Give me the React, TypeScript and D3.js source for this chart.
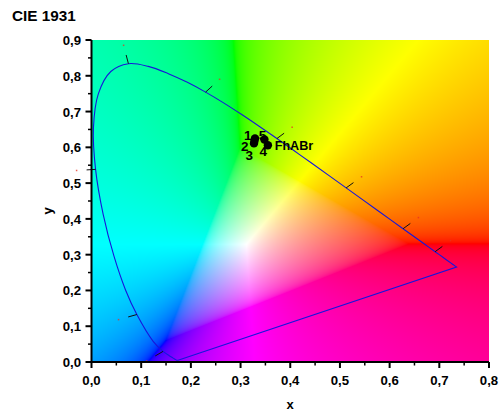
import React, { useEffect, useRef } from 'react';
import * as d3 from 'd3';

const locusX = [0.1741, 0.1738, 0.1733, 0.1726, 0.1714, 0.1689, 0.1644, 0.1566, 0.144, 0.1241, 0.0913, 0.0687, 0.0454, 0.0235, 0.0082, 0.0039, 0.0139, 0.0389, 0.0743, 0.1142, 0.1547, 0.1929, 0.2296, 0.2658, 0.3016, 0.3373, 0.3731, 0.4087, 0.4441, 0.4788, 0.5125, 0.5448, 0.5752, 0.6029, 0.627, 0.6482, 0.6658, 0.6801, 0.6915, 0.7006, 0.7079, 0.714, 0.719, 0.723, 0.726, 0.7283, 0.73, 0.7311, 0.732, 0.7334, 0.7347];
const locusY = [0.005, 0.0049, 0.0048, 0.0048, 0.0051, 0.0069, 0.0109, 0.0177, 0.0297, 0.0578, 0.1327, 0.2007, 0.295, 0.4127, 0.5384, 0.6548, 0.7502, 0.812, 0.8338, 0.8262, 0.8059, 0.7816, 0.7543, 0.7243, 0.6923, 0.6589, 0.6245, 0.5896, 0.5547, 0.5202, 0.4866, 0.4544, 0.4242, 0.3965, 0.3725, 0.3514, 0.334, 0.3197, 0.3083, 0.2993, 0.292, 0.2859, 0.2809, 0.277, 0.274, 0.2717, 0.27, 0.2689, 0.268, 0.2666, 0.2653];
// wavelength marks on the locus (460..620 nm), as indices into locusX/locusY
const markIndex = [8, 10, 14, 18, 22, 26, 30, 34, 38];
const sampleLabels = ['1', '2', '3', '4', '5'];
const sampleX = [0.329, 0.327, 0.328, 0.355, 0.348];
const sampleY = [0.625, 0.611, 0.618, 0.606, 0.622];
const xTicks = [0, 0.1, 0.2, 0.3, 0.4, 0.5, 0.6, 0.7, 0.8];
const yTicks = [0, 0.1, 0.2, 0.3, 0.4, 0.5, 0.6, 0.7, 0.8, 0.9];

const labelDx = [-7.3, -9.3, -5.2, -4.6, -2];
const labelDy = [1.3, 7.4, 19.1, 10.9, 1];

const fmt = (v: number) => v.toFixed(1).replace('.', ',');
const x = d3.scaleLinear().domain([0, 0.8]).range([91.5, 489]);
const y = d3.scaleLinear().domain([0, 0.9]).range([362, 40]);

function gamma(c: number) {
  return c <= 0.0031308 ? 12.92 * c : 1.055 * Math.pow(c, 1 / 2.4) - 0.055;
}

function xyToRgb(cx: number, cy: number) {
  const X = cx / Math.max(cy, 0.0001);
  const Z = (1 - cx - cy) / Math.max(cy, 0.0001);
  let r = 3.2406 * X - 1.5372 - 0.4986 * Z;
  let g = -0.9689 * X + 1.8758 + 0.0415 * Z;
  let b = 0.0557 * X - 0.204 + 1.057 * Z;
  // out of gamut: add white until nothing is negative, hue then radiates from the white point
  const low = Math.min(r, g, b);
  if (low < 0) {
    r -= low;
    g -= low;
    b -= low;
  }
  const m = Math.max(r, g, b);
  return [gamma(r / m), gamma(g / m), gamma(b / m)].map((c) => Math.round(c * 255));
}

// ticks are normal to the curve in data units, then mapped to pixels
function markNormal(i: number) {
  const tx = locusX[i + 1] - locusX[i - 1];
  const ty = locusY[i + 1] - locusY[i - 1];
  let nx = x(-ty) - x(0);
  let ny = y(tx) - y(0);
  const len = Math.hypot(nx, ny);
  nx /= len;
  ny /= len;
  if (nx * (x(locusX[i]) - x(0.3127)) + ny * (y(locusY[i]) - y(0.329)) < 0) {
    nx = -nx;
    ny = -ny;
  }
  return [nx, ny];
}

export default function App() {
  const bgRef = useRef<SVGImageElement>(null);

  useEffect(() => {
    const w = Math.round(x.range()[1] - x.range()[0]);
    const h = Math.round(y.range()[0] - y.range()[1]);
    const canvas = document.createElement('canvas');
    canvas.width = w;
    canvas.height = h;
    const ctx = canvas.getContext('2d')!;
    const img = ctx.createImageData(w, h);
    for (let j = 0; j < h; j++) {
      for (let i = 0; i < w; i++) {
        const [r, g, b] = xyToRgb(x.invert(x.range()[0] + i + 0.5), y.invert(y.range()[1] + j + 0.5));
        const k = (j * w + i) * 4;
        img.data[k] = r;
        img.data[k + 1] = g;
        img.data[k + 2] = b;
        img.data[k + 3] = 255;
      }
    }
    ctx.putImageData(img, 0, 0);
    bgRef.current?.setAttribute('href', canvas.toDataURL());
  }, []);

  const line = d3.line<number>().x((d) => x(d)).y((_, i) => y(locusY[i])).curve(d3.curveCatmullRom);
  const font = { fontFamily: 'Liberation Sans, Arial, sans-serif', fontWeight: 700 };

  return (
    <svg width={501} height={412} style={{ position: 'absolute', left: 0, top: 0, background: '#fff' }}>
      <image ref={bgRef} x={x(0)} y={y(0.9)} width={x(0.8) - x(0)} height={y(0) - y(0.9)} preserveAspectRatio="none" />
      <path d={line(locusX)! + 'Z'} fill="none" stroke="#1616dc" strokeWidth={1.1} />
      {markIndex.map((m) => {
        const [nx, ny] = markNormal(m);
        const px = x(locusX[m]);
        const py = y(locusY[m]);
        return (
          <g key={m}>
            <line x1={px} y1={py} x2={px + nx * 9} y2={py + ny * 9} stroke="#111" strokeWidth={1} />
            <rect x={px + nx * 19 - 0.75} y={py + ny * 19 - 0.75} width={1.5} height={1.5} fill="#e83020" opacity={0.75} />
          </g>
        );
      })}
      {sampleX.map((s, i) => (
        <circle key={i} cx={x(s)} cy={y(sampleY[i])} r={4.2} fill="#000" />
      ))}
      {sampleLabels.map((t, i) => (
        <text key={t} x={x(sampleX[i]) + labelDx[i]} y={y(sampleY[i]) + labelDy[i]} textAnchor="middle" fontSize={13.5} style={font}>{t}</text>
      ))}
      <text x={274.7} y={150} fontSize={12.6} style={font}>FhABr</text>

      <g stroke="#000" strokeWidth={2} fill="none">
        <line x1={x(0)} x2={x(0.8)} y1={y(0)} y2={y(0)} />
        <line x1={x(0)} x2={x(0)} y1={y(0)} y2={y(0.9)} />
        {xTicks.map((t) => <line key={t} x1={x(t)} x2={x(t)} y1={y(0)} y2={y(0) + 6} />)}
        {yTicks.map((t) => <line key={t} x1={x(0)} x2={x(0) - 6} y1={y(t)} y2={y(t)} />)}
        {xTicks.slice(1).map((t) => <line key={t} strokeWidth={1.5} x1={x(t - 0.05)} x2={x(t - 0.05)} y1={y(0)} y2={y(0) + 3.5} />)}
        {yTicks.slice(1).map((t) => <line key={t} strokeWidth={1.5} x1={x(0)} x2={x(0) - 3.5} y1={y(t - 0.05)} y2={y(t - 0.05)} />)}
      </g>
      {xTicks.map((t) => (
        <text key={t} x={x(t)} y={384.5} textAnchor="middle" fontSize={13.2} style={font}>{fmt(t)}</text>
      ))}
      {yTicks.map((t) => (
        <text key={t} x={81} y={y(t) + 5} textAnchor="end" fontSize={13.2} style={font}>{fmt(t)}</text>
      ))}
      <text x={290} y={409} textAnchor="middle" fontSize={13} style={font}>x</text>
      <text transform={`translate(52,${y(0.45) + 10}) rotate(-90)`} textAnchor="middle" fontSize={13} style={font}>y</text>
      <text x={12} y={21} fontSize={15.3} style={font}>CIE 1931</text>
    </svg>
  );
}
